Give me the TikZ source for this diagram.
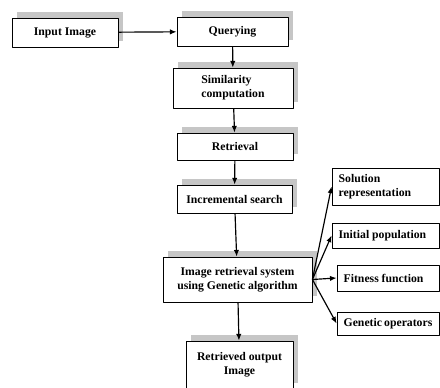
\documentclass[tikz,border=0pt]{standalone}
\usepackage{fontspec}
\setmainfont{Liberation Serif}
\usetikzlibrary{arrows.meta,shadows}
\tikzset{
  flowbox/.style={draw,fill=white,line width=.7pt,font=\bfseries,align=center,inner sep=1mm},
  shadowbox/.style={flowbox,drop shadow={shadow xshift=1.5mm,shadow yshift=1.8mm,fill=gray!45,opacity=1}},
  sidebox/.style={flowbox,align=flush left,inner xsep=2mm},
  flowarrow/.style={-{Latex[length=2mm,width=1.6mm]},line width=1pt}
}
\begin{document}
\begin{tikzpicture}[x=0.3mm,y=-0.3mm,line join=round]
  \path[use as bounding box,clip] (0,0) rectangle (440,387);
  % main column
  \node[shadowbox,minimum width=31.8mm,minimum height=8.7mm] (input) at (65,32.5) {Input Image};
  \node[shadowbox,minimum width=33.3mm,minimum height=8.7mm] (query) at (232.5,31.5) {Querying};
  \node[shadowbox,align=left,minimum width=36mm,minimum height=12mm] (simil) at (233,88) {Similarity\\computation};
  \node[shadowbox,minimum width=34.8mm,minimum height=8.1mm] (retr) at (235,146.5) {Retrieval};
  \node[shadowbox,minimum width=34.5mm,minimum height=8.4mm] (incr) at (234.5,199) {Incremental search};
  \node[shadowbox,minimum width=44.7mm,minimum height=13.5mm] (ga) at (237.5,279.5) {Image retrieval system\\using Genetic algorithm};
  \node[shadowbox,minimum width=32.1mm,minimum height=14.4mm] (out) at (239.5,365) {Retrieved output\\Image};
  % genetic algorithm parts
  \node[sidebox,text width=28.1mm,minimum height=11.1mm] (sol) at (385.5,186.5) {Solution\\representation};
  \node[sidebox,text width=28.1mm,minimum height=7.5mm] (init) at (385.5,235.5) {Initial~population};
  \node[sidebox,text width=26.6mm,minimum height=7.8mm] (fit) at (388,278) {Fitness~function};
  \node[sidebox,text width=26.6mm,minimum height=6.9mm] (gen) at (388,323.5) {Genetic~operators};
  % connectors
  \draw[flowarrow] (input) -- (query);
  \draw[flowarrow] (query) -- (simil);
  \draw[flowarrow] (simil) -- (retr);
  \draw[flowarrow] (retr) -- (incr);
  \draw[flowarrow] (incr) -- (ga);
  \draw[flowarrow] (ga) -- (out);
  \foreach \P in {sol,init,fit,gen}{\draw[flowarrow] (ga.east) -- (\P.west);}
\end{tikzpicture}
\end{document}
